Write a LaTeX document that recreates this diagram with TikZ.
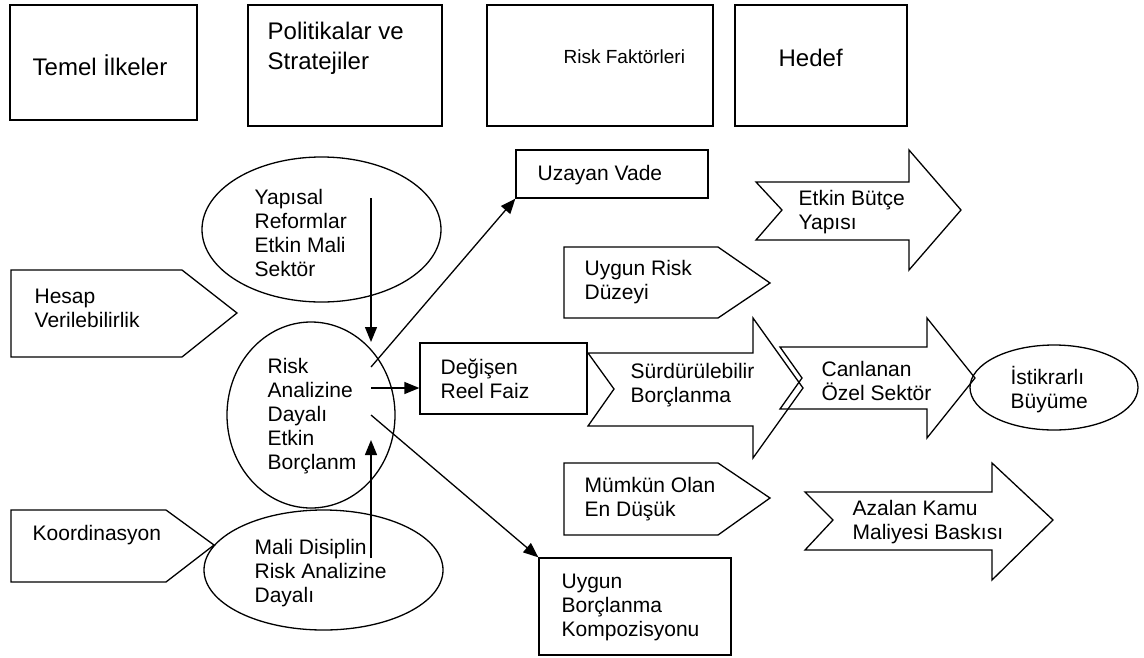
\documentclass[tikz,border=0pt]{standalone}
\usepackage{fontspec}
\setmainfont{Liberation Sans}
\usepackage{tikz}
\usetikzlibrary{arrows.meta, positioning, shapes.geometric}
\tikzset{every node/.style={font=\fontsize{21}{24}\selectfont}}
\tikzset{
  kutu/.style={draw, rectangle, inner sep=0pt},
  oval/.style={draw, ellipse, inner sep=0pt},
  yazi/.style={anchor=west, align=left, inner sep=0pt},
  baslik/.style={yazi, font=\fontsize{24}{30}\selectfont},
  ok/.style={-{Triangle[length=15pt, width=12pt]}},
}

\begin{document}
\begin{tikzpicture}[x=1pt, y=-1pt, line width=1.3pt]
        \useasboundingbox (0,0) rectangle (1144,657);
        \node[kutu, minimum width=187, minimum height=115] (temel) at (103.5,62.5) {};
        \node[baslik] at (32,65) {Temel İlkeler};
        \node[kutu, minimum width=194, minimum height=121] (politika) at (345,65.5) {};
        \node[baslik] at (267,48) {Politikalar ve\\Stratejiler};
        \node[kutu, minimum width=226, minimum height=121] (riskf) at (600,65.5) {};
        \node[yazi, font=\fontsize{19}{22}\selectfont] at (563,57) {Risk Faktörleri};
        \node[kutu, minimum width=172, minimum height=121] (hedef) at (821,65.5) {};
        \node[baslik] at (778,58) {Hedef};

        \node[oval, minimum width=239, minimum height=145] (yapisal) at (321.5,229.5) {};
        \node[yazi] at (254,233) {Yapısal\\Reformlar\\Etkin Mali\\Sektör};
        \node[oval, minimum width=168, minimum height=186] (risk) at (311,415) {};
        \node[yazi] at (267,416) {Risk\\Analizine\\Dayalı\\Etkin\\Borçlanm};
        \node[oval, minimum width=239, minimum height=120] (mali) at (323.5,570) {};
        \node[yazi] at (254,573.5) {Mali Disiplin\\Risk Analizine\\Dayalı};

        \draw (11,270) -- (182,270) -- (237,313) -- (182,357) -- (11,357) -- cycle;
        \node[yazi] (hesap) at (34,308.5) {Hesap\\Verilebilirlik};
        \draw (11,510) -- (166,510) -- (214,545) -- (166,582) -- (11,582) -- cycle;
        \node[yazi] (koord) at (32,535) {Koordinasyon};

        \node[kutu, minimum width=192, minimum height=48] (uzayan) at (612,174) {};
        \node[yazi] at (537,175) {Uzayan Vade};
        \node[kutu, minimum width=167, minimum height=71] (degisen) at (503.5,378.5) {};
        \node[yazi] at (440,378.5) {Değişen\\Reel Faiz};
        \node[kutu, minimum width=192, minimum height=97] (uygunbk) at (635,606.5) {};
        \node[yazi] at (561,607) {Uygun\\Borçlanma\\Kompozisyonu};

        \draw (564,247) -- (718,247) -- (770,283) -- (718,318) -- (564,318) -- cycle;
        \node[yazi] (uygunrisk) at (584,282.5) {Uygun Risk\\Düzeyi};
        \draw (564,463) -- (718,463) -- (770,498) -- (718,535) -- (564,535) -- cycle;
        \node[yazi] (mumkun) at (584,499.5) {Mümkün Olan\\En Düşük};

        \draw (756,182) -- (909,182) -- (909,150) -- (961,210) -- (909,270) -- (909,240) -- (756,240) -- (782,210) -- cycle;
        \node[yazi] (etkin) at (798,212.5) {Etkin Bütçe\\Yapısı};
        \draw (588,353) -- (753,353) -- (753,318) -- (803,388) -- (753,458) -- (753,426) -- (588,426) -- (614,389) -- cycle;
        \node[yazi] (surdur) at (630,385) {Sürdürülebilir\\Borçlanma};
        \draw (780,347) -- (927,347) -- (927,318) -- (975,378) -- (927,438) -- (927,409) -- (780,409) -- (802,378) -- cycle;
        \node[yazi] (canlanan) at (821,380.5) {Canlanan\\Özel Sektör};
        \draw (805,492) -- (992,492) -- (992,463) -- (1053,520) -- (992,580) -- (992,550) -- (805,550) -- (833,520) -- cycle;
        \node[yazi] (azalan) at (852,522.5) {Azalan Kamu\\Maliyesi Baskısı};

        \node[oval, minimum width=168, minimum height=85] (istikrar) at (1054,387.5) {};
        \node[yazi] at (1010,390) {İstikrarlı\\Büyüme};

        \coordinate (ya) at (371,198);
        \coordinate (yb) at (371,342);
        \coordinate (r1) at (371,367);
        \coordinate (r2) at (371,388);
        \coordinate (r3) at (371,415);
        \coordinate (ma) at (371,558);
        \coordinate (mb) at (371,440);
        \draw[ok] (ya) -- (yb);
        \draw[ok] (r1) -- (uzayan.south west);
        \draw[ok] (r2) -- (r2 -| degisen.west);
        \draw[ok] (r3) -- (uygunbk.north west);
        \draw[ok] (ma) -- (mb);
      \end{tikzpicture}
\end{document}
